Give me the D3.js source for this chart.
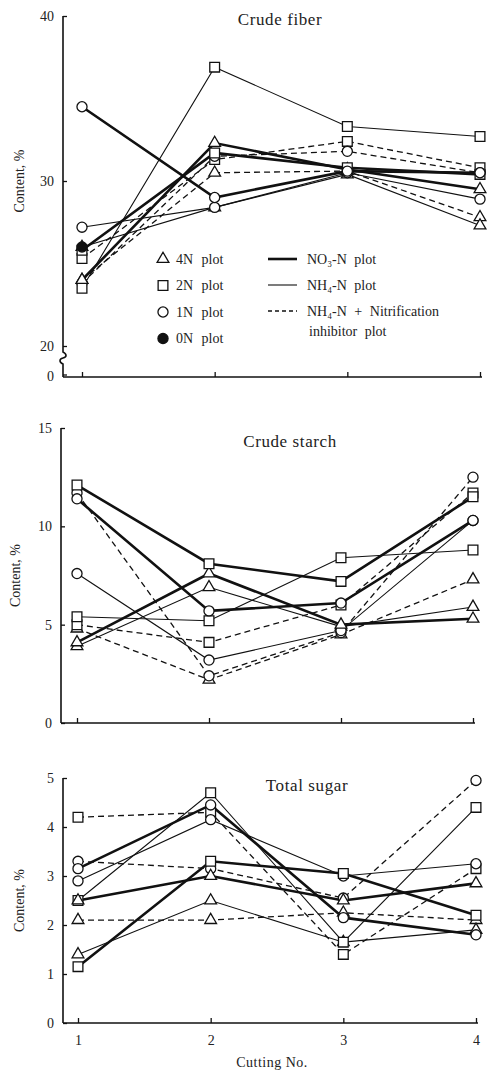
<!DOCTYPE html>
<html>
<head>
<meta charset="utf-8">
<title>Crude fiber, crude starch and total sugar</title>
<script src="https://d3js.org/d3.v7.min.js"></script>
<style>
  body { margin: 0; background: #fff; }
  text { font-family: "Liberation Serif", "DejaVu Serif", serif; fill: #222; }
</style>
</head>
<body>
<div id="chart"></div>
<script>
// cutting numbers on the x axis
var cuttings = [1, 2, 3, 4];
// rows: 4N, 2N, 1N plot
var nLevels = ["4N", "2N", "1N"];

// Crude fiber (%)
var fiberNO3 = [[24.0, 32.3, 30.7, 29.5], [25.8, 31.7, 30.8, 30.4], [34.5, 29.0, 30.6, 30.5]];
var fiberNH4 = [[26.0, 28.4, 30.4, 27.3], [23.5, 36.9, 33.3, 32.7], [27.2, 28.4, 30.5, 28.9]];
var fiberNI  = [[24.0, 30.5, 30.6, 27.8], [25.3, 31.3, 32.4, 30.8], [23.8, 31.5, 31.8, 30.5]];
var fiber0N  = [26.0];
var fiberTicks = [20, 30, 40];

// Crude starch (%)
var starchNO3 = [[4.1, 7.6, 5.0, 5.3], [12.1, 8.1, 7.2, 11.5], [11.4, 5.7, 6.1, 10.3]];
var starchNH4 = [[3.9, 6.9, 4.9, 5.9], [5.4, 5.2, 8.4, 8.8], [7.6, 3.2, 4.7, 10.3]];
var starchNI  = [[4.8, 2.2, 4.5, 7.3], [5.0, 4.1, 6.0, 11.7], [11.7, 2.4, 4.6, 12.5]];
var starchTicks = [0, 5, 10, 15];

// Total sugar (%)
var sugarNO3 = [[2.5, 3.0, 2.5, 2.85], [1.15, 3.3, 3.05, 2.2], [3.15, 4.45, 2.15, 1.8]];
var sugarNH4 = [[1.4, 2.5, 1.65, 1.9], [2.5, 4.7, 1.65, 4.4], [2.9, 4.15, 3.0, 3.25]];
var sugarNI  = [[2.1, 2.1, 2.25, 2.1], [4.2, 4.3, 1.4, 3.15], [3.3, 3.15, 2.55, 4.95]];
var sugarTicks = [0, 1, 2, 3, 4, 5];

var W = 487, H = 1071;
var svg = d3.select("#chart").append("svg")
    .attr("width", W).attr("height", H);

var symbolFor = { "4N": d3.symbolTriangle, "2N": d3.symbolSquare, "1N": d3.symbolCircle, "0N": d3.symbolCircle };
var sizeFor = { "4N": 60, "2N": 95, "1N": 80, "0N": 80 };
var lineStyle = {
  no3: { w: 2.6, dash: null },
  nh4: { w: 1.1, dash: null },
  ni:  { w: 1.3, dash: "6,4" }
};

function drawPanel(p) {
  var g = svg.append("g");
  var x = d3.scalePoint().domain(cuttings).range([p.x1, p.x4]);
  var y = d3.scaleLinear().domain(p.domain).range(p.yRange);

  // y axis
  var yAxis = g.append("g")
      .attr("transform", "translate(" + p.axisX + ",0)")
      .call(d3.axisLeft(y).tickValues(p.ticks).tickFormat(d3.format("d"))
             .tickSizeInner(-4).tickSizeOuter(0).tickPadding(9));
  yAxis.select(".domain").remove();
  yAxis.selectAll("text").style("font-size", "14px").style("font-family", "Liberation Serif, serif");
  yAxis.selectAll("line").attr("stroke", "#111").attr("stroke-width", 1.3);

  if (p.brk) {
    // broken axis: top part, squiggle, then 0 tick
    g.append("path")
      .attr("d", "M" + p.axisX + "," + y(p.domain[1]) + "V" + p.brk.top +
                 "c 4,2 4,5 0,6 c -4,1 -4,4 0,6 V" + p.brk.zero)
      .attr("fill", "none").attr("stroke", "#111").attr("stroke-width", 1.6);
    g.append("line").attr("x1", p.axisX).attr("x2", p.axisX + 4)
      .attr("y1", p.brk.zero - 2).attr("y2", p.brk.zero - 2)
      .attr("stroke", "#111").attr("stroke-width", 1.3);
    g.append("text").attr("x", p.axisX - 9).attr("y", p.brk.zero)
      .attr("text-anchor", "end").attr("dy", "0.32em")
      .style("font-size", "14px").text("0");
  } else {
    g.append("line").attr("x1", p.axisX).attr("x2", p.axisX)
      .attr("y1", p.yRange[1]).attr("y2", p.yRange[0])
      .attr("stroke", "#111").attr("stroke-width", 1.6);
  }

  // x axis
  var xAxisY = p.brk ? p.brk.zero : p.yRange[0];
  var xAxis = g.append("g")
      .attr("transform", "translate(0," + xAxisY + ")")
      .call(d3.axisBottom(x).tickSizeInner(-5).tickSizeOuter(0).tickPadding(12)
             .tickFormat(p.xLabels ? d3.format("d") : function() { return ""; }));
  xAxis.select(".domain").attr("d", "M" + p.axisX + ",0H" + (p.x4 + 2))
      .attr("stroke", "#111").attr("stroke-width", 1.6);
  xAxis.selectAll("line").attr("stroke", "#111").attr("stroke-width", 1.3);
  xAxis.selectAll("text").style("font-size", "14px").style("font-family", "Liberation Serif, serif");

  // title and y label
  g.append("text").attr("x", p.titleX).attr("y", p.titleY)
    .attr("text-anchor", "middle").style("font-size", "17px")
    .style("letter-spacing", "0.6px").text(p.title);
  g.append("text")
    .attr("transform", "translate(" + p.ylabX + "," + ((p.yRange[0] + p.yRange[1]) / 2) + ") rotate(-90)")
    .attr("text-anchor", "middle").style("font-size", "14px").text("Content, %");

  var line = d3.line()
      .defined(function(d) { return d != null; })
      .x(function(d, i) { return x(cuttings[i]); })
      .y(function(d) { return y(d); });

  var series = [];
  ["ni", "nh4", "no3"].forEach(function(form) {
    p.data[form].forEach(function(vals, i) {
      series.push({ form: form, level: nLevels[i], values: vals });
    });
  });

  g.selectAll(".series").data(series).enter().append("path")
    .attr("d", function(s) { return line(s.values); })
    .attr("fill", "none").attr("stroke", "#111")
    .attr("stroke-width", function(s) { return lineStyle[s.form].w; })
    .attr("stroke-dasharray", function(s) { return lineStyle[s.form].dash; });

  var pts = [];
  series.forEach(function(s) {
    s.values.forEach(function(v, i) { if (v != null) pts.push({ level: s.level, c: cuttings[i], v: v }); });
  });
  (p.zeroN || []).forEach(function(v, i) { pts.push({ level: "0N", c: cuttings[i], v: v }); });

  g.selectAll(".pt").data(pts).enter().append("path")
    .attr("transform", function(d) { return "translate(" + x(d.c) + "," + y(d.v) + ")"; })
    .attr("d", function(d) { return d3.symbol(symbolFor[d.level], sizeFor[d.level])(); })
    .attr("fill", function(d) { return d.level === "0N" ? "#111" : "#fff"; })
    .attr("stroke", "#111").attr("stroke-width", 1.3);
  return g;
}

drawPanel({
  title: "Crude fiber", titleX: 280, titleY: 25,
  data: { no3: fiberNO3, nh4: fiberNH4, ni: fiberNI }, zeroN: fiber0N,
  domain: [20, 40], yRange: [346, 16], ticks: fiberTicks,
  axisX: 63, x1: 82, x4: 480, ylabX: 24,
  brk: { top: 352, zero: 377 }, xLabels: false
});

drawPanel({
  title: "Crude starch", titleX: 290, titleY: 447,
  data: { no3: starchNO3, nh4: starchNH4, ni: starchNI },
  domain: [0, 15], yRange: [723, 428], ticks: starchTicks,
  axisX: 61, x1: 77, x4: 473, ylabX: 20, xLabels: false
});

drawPanel({
  title: "Total sugar", titleX: 307, titleY: 791,
  data: { no3: sugarNO3, nh4: sugarNH4, ni: sugarNI },
  domain: [0, 5], yRange: [1023, 778], ticks: sugarTicks,
  axisX: 63, x1: 78, x4: 476, ylabX: 24, xLabels: true
});

svg.append("text").attr("x", 272).attr("y", 1067)
  .attr("text-anchor", "middle").style("font-size", "14px")
  .style("letter-spacing", "0.5px").text("Cutting No.");

// legend in the crude fiber panel
var markLegend = [["4N", "4N plot"], ["2N", "2N plot"], ["1N", "1N plot"], ["0N", "0N plot"]];
var lg = svg.append("g");
markLegend.forEach(function(m, i) {
  var yy = 259 + i * 26.5;
  lg.append("path").attr("transform", "translate(163," + yy + ")")
    .attr("d", d3.symbol(symbolFor[m[0]], sizeFor[m[0]])())
    .attr("fill", m[0] === "0N" ? "#111" : "#fff").attr("stroke", "#111").attr("stroke-width", 1.3);
  lg.append("text").attr("x", 176).attr("y", yy).attr("dy", "0.35em")
    .style("font-size", "14px").style("word-spacing", "5px").text(m[1]);
});
var lineLegend = [["no3", "NO\u2083-N  plot"], ["nh4", "NH\u2084-N  plot"], ["ni", "NH\u2084-N + Nitrification"]];
lineLegend.forEach(function(l, i) {
  var yy = 259 + i * 26;
  lg.append("line").attr("x1", 268).attr("x2", 297).attr("y1", yy).attr("y2", yy)
    .attr("stroke", "#111").attr("stroke-width", lineStyle[l[0]].w)
    .attr("stroke-dasharray", l[0] === "ni" ? "4,3" : null);
  lg.append("text").attr("x", 307).attr("y", yy).attr("dy", "0.35em")
    .style("font-size", "14px").style("word-spacing", "4px").text(l[1]);
});
lg.append("text").attr("x", 309).attr("y", 331).attr("dy", "0.35em")
  .style("font-size", "14px").style("word-spacing", "4px").text("inhibitor plot");
</script>
</body>
</html>
